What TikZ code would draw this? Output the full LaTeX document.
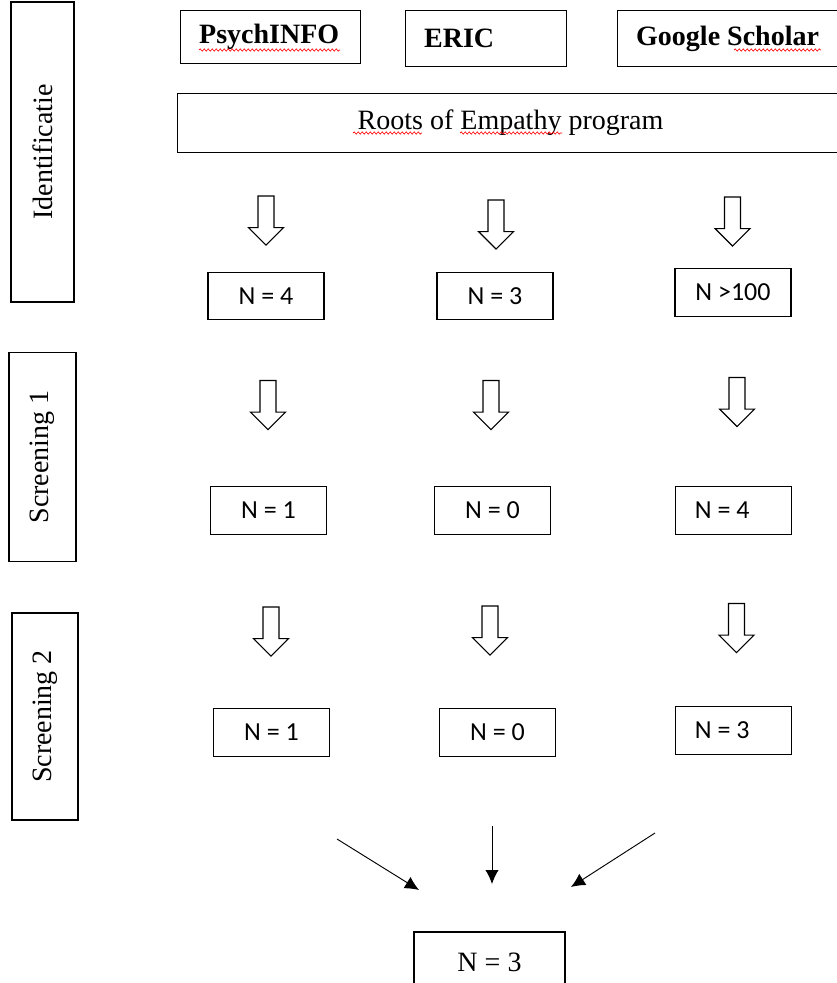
\documentclass[tikz,border=0pt]{standalone}
\usepackage{fontspec}
\setmainfont{Liberation Serif}
\newfontfamily\carlito{Carlito}
\usetikzlibrary{shapes.arrows,arrows.meta,decorations.pathmorphing}

\begin{document}
\begin{tikzpicture}[x=0.75pt,y=-0.75pt,line width=0.8pt,
  src/.style={draw,anchor=north west,align=flush left,inner xsep=14pt,font=\fontsize{21}{25}\selectfont\bfseries},
  phase/.style={draw,rotate=90,font=\fontsize{21}{25}\selectfont},
  hits/.style={draw,minimum width=87pt,minimum height=35.5pt,font=\carlito\fontsize{19.5}{23}\selectfont},
  hitsl/.style={hits,align=flush left,text width=58pt,inner xsep=14.5pt},
  hollow/.style={draw,single arrow,rotate=-90,inner sep=5.6pt,single arrow head extend=7.1pt,minimum height=36.75pt,minimum width=25.5pt},
  spell/.style={red,line width=0.5pt,decorate,decoration={snake,amplitude=0.8pt,segment length=3pt}}]

\useasboundingbox (0,0) rectangle (837,983);

% databases
\node[src,text width=107pt,minimum height=39.75pt] (psych) at (180,10) {PsychINFO};
\node[src,text width=92.5pt,minimum height=42pt] (eric) at (405,10) {ERIC};
\node[src,text width=146pt,minimum height=42pt] (scholar) at (617,10) {Google Scholar};
\node[draw,anchor=north west,minimum width=499.5pt,minimum height=44.25pt,font=\fontsize{21}{25}\selectfont] (roots) at (177,93) {Roots of Empathy program};

\draw[spell] (199,50) -- (340,50);
\draw[spell] (734,50) -- (821,50);
\draw[spell] (353,133) -- (422,133);
\draw[spell] (460,133) -- (562,133);

% phases
\node[phase,minimum width=225pt,minimum height=47.25pt] (ident) at (42.5,152) {Identificatie};
\node[phase,minimum width=156.75pt,minimum height=50.25pt] (scr1) at (42.5,457) {Screening 1};
\node[phase,minimum width=155.25pt,minimum height=49.5pt] (scr2) at (45,716.5) {Screening 2};

% block arrows
\foreach \n/\x/\y in {d1/266/216.5, d2/496/220.5, d3/732.5/217.5,
                      e1/268/401, e2/491/401, e3/737/398,
                      f1/271/627.5, f2/490/626.5, f3/736.5/624}
{
  \node[hollow] (\n) at (\x,\y) {};
}

% counts
\node[hits] (a1) at (266,296) {N = 4};
\node[hits] (a2) at (495,296) {N = 3};
\node[hits] (a3) at (733,292.5) {N >100};
\node[hits] (b1) at (268.5,510.5) {N = 1};
\node[hits] (b2) at (492.5,510.5) {N = 0};
\node[hitsl] (b3) at (733.5,510.5) {N = 4};
\node[hits] (c1) at (271.5,732.5) {N = 1};
\node[hits] (c2) at (497.5,732.5) {N = 0};
\node[hitsl] (c3) at (733.5,730.5) {N = 3};

% final
\node[draw,minimum width=113.25pt,minimum height=45pt,font=\fontsize{21}{25}\selectfont] (total) at (489.5,962) {N = 3};

\coordinate (l0) at (337,839);
\coordinate (l1) at (419,890);
\coordinate (m0) at (492,826);
\coordinate (m1) at (492,884);
\coordinate (r0) at (655,833);
\coordinate (r1) at (571,887);
\draw[line width=0.7pt,-{Latex[length=10.5pt,width=10pt]}] (l0) -- (l1);
\draw[line width=0.7pt,-{Latex[length=10.5pt,width=10pt]}] (m0) -- (m1);
\draw[line width=0.7pt,-{Latex[length=10.5pt,width=10pt]}] (r0) -- (r1);
\end{tikzpicture}
\end{document}
